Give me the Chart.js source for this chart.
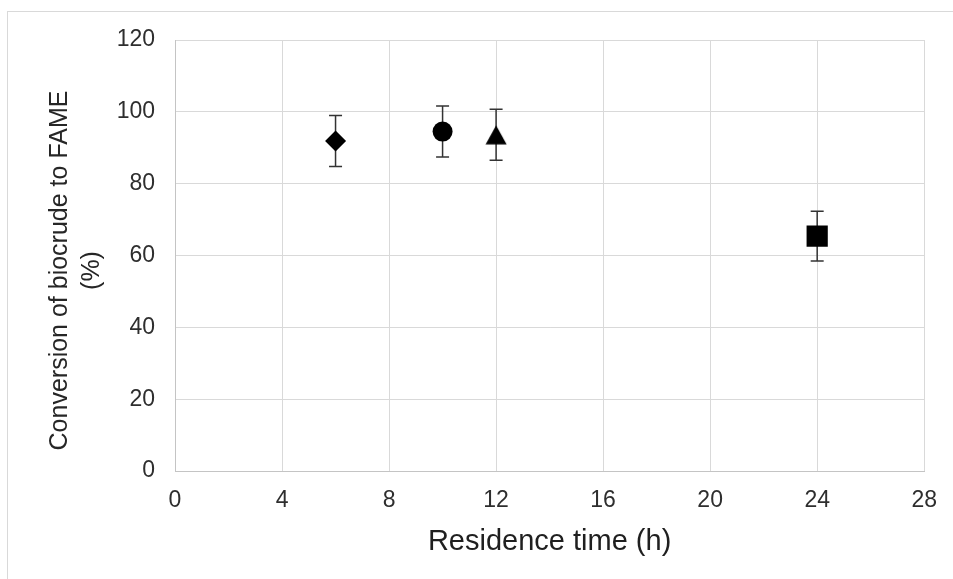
<!DOCTYPE html>
<html>
<head>
<meta charset="utf-8">
<script src="https://cdn.jsdelivr.net/npm/chart.js@4"></script>
<style>
  html, body { margin: 0; padding: 0; background: #ffffff; }
  #wrap { position: relative; width: 953px; height: 579px; overflow: hidden; }
  #frame { position: absolute; left: 7px; top: 11px; width: 960px; height: 600px;
           border-left: 1px solid #d9d9d9; border-top: 1px solid #d9d9d9; }
  #c { position: absolute; left: 0; top: 0; }
</style>
</head>
<body>
<div id="wrap">
  <div id="frame"></div>
  <canvas id="c" width="953" height="579"></canvas>
</div>
<script>
// ---- data ----
const residenceTime   = [6, 10, 12, 24];
const conversion      = [91.9, 94.5, 93.6, 65.4];
const conversionError = [7.1, 7.1, 7.1, 6.9];
const xTickValues     = [0, 4, 8, 12, 16, 20, 24, 28];
const yTickValues     = [0, 20, 40, 60, 80, 100, 120];
const xTitle = 'Residence time (h)';
const yTitleLines = ['Conversion of biocrude to FAME', '(%)'];

const points = residenceTime.map((x, i) => ({ x: x, y: conversion[i] }));

// triangle marker centred on its bounding box (like the spreadsheet marker)
const triCanvas = document.createElement('canvas');
triCanvas.width = 22; triCanvas.height = 20;
(function () {
  const t = triCanvas.getContext('2d');
  t.fillStyle = '#000000';
  t.beginPath();
  t.moveTo(11, 0.5); t.lineTo(21.5, 19.5); t.lineTo(0.5, 19.5);
  t.closePath(); t.fill();
})();

const errorBars = {
  id: 'errorBars',
  beforeDatasetsDraw(chart) {
    const ctx = chart.ctx;
    const xs = chart.scales.x, ys = chart.scales.y;
    ctx.save();
    ctx.strokeStyle = '#333333';
    ctx.lineWidth = 1.5;
    const cap = 6.5;
    residenceTime.forEach((x, i) => {
      const px = xs.getPixelForValue(x);
      const top = ys.getPixelForValue(conversion[i] + conversionError[i]);
      const bot = ys.getPixelForValue(conversion[i] - conversionError[i]);
      ctx.beginPath();
      ctx.moveTo(px, top); ctx.lineTo(px, bot);
      ctx.moveTo(px - cap, top); ctx.lineTo(px + cap, top);
      ctx.moveTo(px - cap, bot); ctx.lineTo(px + cap, bot);
      ctx.stroke();
    });
    ctx.restore();
  }
};

const yTitlePlugin = {
  id: 'yTitle',
  afterDraw(chart) {
    const ctx = chart.ctx;
    const a = chart.chartArea;
    ctx.save();
    ctx.fillStyle = '#262626';
    ctx.font = '25px "Liberation Sans", Arial, sans-serif';
    ctx.textAlign = 'center';
    ctx.textBaseline = 'middle';
    ctx.translate(60, (a.top + a.bottom) / 2 + 15);
    ctx.rotate(-Math.PI / 2);
    yTitleLines.forEach((t, i) => ctx.fillText(t, 0, i * 32));
    ctx.restore();
  }
};

new Chart(document.getElementById('c'), {
  type: 'scatter',
  data: {
    datasets: [{
      data: points,
      pointStyle: ['rectRot', 'circle', triCanvas, 'rect'],
      pointRadius: [10.5, 10, 11, 15],
      pointHoverRadius: [10.5, 10, 11, 15],
      backgroundColor: '#000000',
      borderColor: '#000000',
      borderWidth: 0
    }]
  },
  options: {
    responsive: false,
    animation: false,
    devicePixelRatio: 1,
    layout: { padding: { left: 0, right: 28, top: 40, bottom: 0 } },
    plugins: { legend: { display: false }, tooltip: { enabled: false } },
    scales: {
      x: {
        type: 'linear', min: 0, max: 28,
        afterBuildTicks: s => { s.ticks = xTickValues.map(v => ({ value: v })); },
        afterFit: s => { s.height = 108; },
        grid: { color: '#d9d9d9', drawTicks: false, lineWidth: 1 },
        border: { color: '#c4c4c4', width: 1 },
        ticks: { color: '#2e2e2e', padding: 16, font: { family: '"Liberation Sans", Arial, sans-serif', size: 23 } },
        title: { display: true, text: xTitle, color: '#1f1f1f', padding: { top: 0, bottom: 20 },
                 font: { family: '"Liberation Sans", Arial, sans-serif', size: 29 } }
      },
      y: {
        type: 'linear', min: 0, max: 120,
        afterBuildTicks: s => { s.ticks = yTickValues.map(v => ({ value: v })); },
        afterFit: s => { s.width = 175; },
        grid: { color: '#d9d9d9', drawTicks: false, lineWidth: 1 },
        border: { color: '#c4c4c4', width: 1 },
        ticks: { color: '#2e2e2e', padding: 20, font: { family: '"Liberation Sans", Arial, sans-serif', size: 23 } }
      }
    }
  },
  plugins: [errorBars, yTitlePlugin]
});
</script>
</body>
</html>
